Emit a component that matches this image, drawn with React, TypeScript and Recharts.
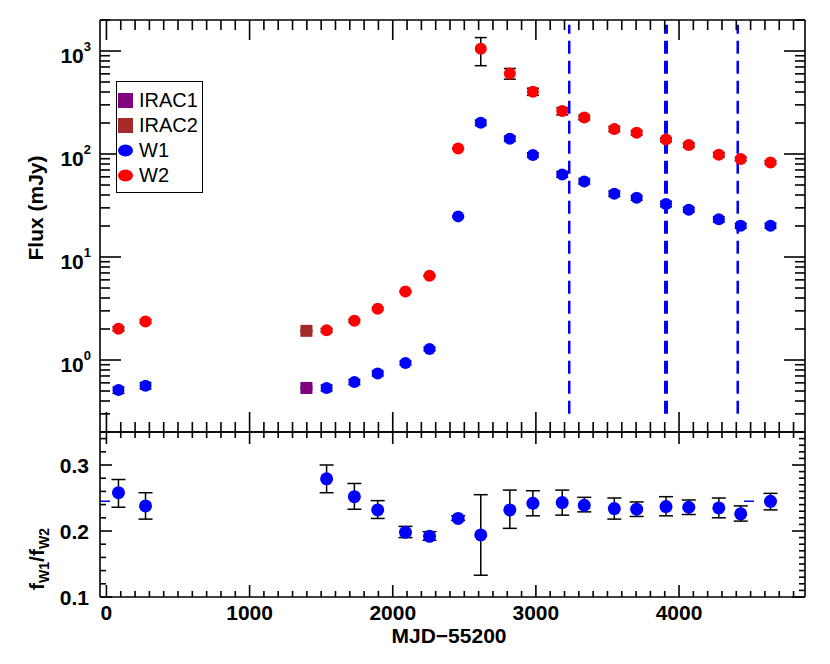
import React from "react";
import { ScatterChart, Scatter, XAxis, YAxis, ErrorBar, ReferenceLine } from "recharts";

// WISE epochs (MJD-55200), shared by W1, W2 and the ratio
const wiseMjd = [84, 273, 1538, 1732, 1895, 2089, 2257, 2457, 2615, 2818, 2979, 3184, 3338, 3548, 3704, 3909, 4068, 4278, 4431, 4639];
const w1Flux = [0.511, 0.563, 0.535, 0.611, 0.741, 0.935, 1.28, 24.8, 201, 141, 97.8, 63.4, 54.2, 41.2, 37.6, 32.7, 28.8, 23.2, 20.1, 20.1];
const w1Err = [0.035, 0.04, 0.035, 0.035, 0.04, 0.04, 0.05, 0.3, 12, 8, 5, 4, 3, 2.5, 2, 2, 1.5, 1.3, 1.1, 1.1];
const w2Flux = [2.01, 2.37, 1.94, 2.4, 3.15, 4.63, 6.58, 113, 1050, 605, 403, 261, 226, 175, 161, 138, 122, 98.5, 89.4, 82.8];
const w2ErrLow = [0.09, 0.09, 0.08, 0.08, 0.09, 0.09, 0.1, 1, 330, 72, 32, 21, 11, 10, 8, 6, 6, 5, 3.6, 3.3];
const w2ErrHigh = [0.09, 0.09, 0.08, 0.08, 0.09, 0.09, 0.1, 1, 300, 72, 32, 21, 11, 10, 8, 6, 6, 5, 3.6, 3.3];

// Spitzer epoch
const iracMjd = [1397];
const irac1Flux = [0.535];
const irac1Err = [0.015];
const irac2Flux = [1.92];
const irac2Err = [0.03];

// f_W1 / f_W2
const ratio = [0.258, 0.238, 0.279, 0.252, 0.232, 0.198, 0.192, 0.219, 0.194, 0.232, 0.242, 0.243, 0.239, 0.234, 0.233, 0.237, 0.236, 0.235, 0.226, 0.245];
const ratioErrLow = [0.022, 0.02, 0.021, 0.019, 0.013, 0.008, 0.006, 0.003, 0.061, 0.028, 0.019, 0.019, 0.01, 0.016, 0.011, 0.014, 0.011, 0.015, 0.011, 0.013];
const ratioErrHigh = [0.02, 0.02, 0.021, 0.02, 0.014, 0.009, 0.007, 0.004, 0.061, 0.03, 0.019, 0.019, 0.012, 0.016, 0.011, 0.015, 0.011, 0.015, 0.012, 0.012];
const ratioRef = 0.245;

// vertical dashed epochs
const epochLines = [3233, 3909, 4410];
const epochSpan = [0.3, 1800];

const xDomain = [-45, 4880];
const fluxDomain = [0.2, 2000];
const ratioDomain = [0.1, 0.35];
const xTicks = Array.from({ length: 49 }, (_, i) => i * 100);
const fluxTicks = [0.2, 0.3, 0.4, 0.5, 0.6, 0.7, 0.8, 0.9, 1, 2, 3, 4, 5, 6, 7, 8, 9, 10, 20, 30, 40, 50, 60, 70, 80, 90, 100, 200, 300, 400, 500, 600, 700, 800, 900, 1000, 2000];
const ratioTicksLeft = [0.1, 0.12, 0.14, 0.16, 0.18, 0.2, 0.22, 0.24, 0.26, 0.28, 0.3, 0.32, 0.34];
const ratioTicksRight = Array.from({ length: 25 }, (_, i) => 0.1 + i * 0.01);

const legendItems = [
  { name: "IRAC1", color: "#800080", shape: "square" },
  { name: "IRAC2", color: "#a52a2a", shape: "square" },
  { name: "W1", color: "#0000ff", shape: "circle" },
  { name: "W2", color: "#ff0000", shape: "circle" },
];

const FONT = "Liberation Sans, Arial, Helvetica, sans-serif";

const w1Data = wiseMjd.map((x, i) => ({ x, y: w1Flux[i], err: [w1Err[i], w1Err[i]] }));
const w2Data = wiseMjd.map((x, i) => ({ x, y: w2Flux[i], err: [w2ErrLow[i], w2ErrHigh[i]] }));
const irac1Data = iracMjd.map((x, i) => ({ x, y: irac1Flux[i], err: [irac1Err[i], irac1Err[i]] }));
const irac2Data = iracMjd.map((x, i) => ({ x, y: irac2Flux[i], err: [irac2Err[i], irac2Err[i]] }));
const ratioData = wiseMjd.map((x, i) => ({ x, y: ratio[i], err: [ratioErrLow[i], ratioErrHigh[i]] }));

const isDecade = (v: number) => Math.abs(Math.log10(v) - Math.round(Math.log10(v))) < 1e-9;
const isTenth = (v: number) => Math.abs(v * 10 - Math.round(v * 10)) < 1e-9;
const isThousand = (v: number) => v % 1000 === 0;

type LabelKind = "log" | "ratio" | "mjd" | "none";

// inward tick marks (long for majors, short for minors), bold label outside for majors
function makeTick(side: string, major: (v: number) => boolean, long: number, short: number, kind: LabelKind) {
  return (props: any) => {
    const x = Number(props.x);
    const y = Number(props.y);
    const v = Number(props.payload.value);
    const big = major(v);
    const len = big ? long : short;
    const dx = side === "left" ? len : side === "right" ? -len : 0;
    const dy = side === "top" ? len : side === "bottom" ? -len : 0;
    let text = null;
    if (big && kind === "log") {
      text = (
        <text x={x - 9} y={y + 12} textAnchor="end" fontFamily={FONT} fontWeight="bold" fontSize={21} fill="#000">
          <tspan>10</tspan>
          <tspan dy={-12} fontSize={13}>{String(Math.round(Math.log10(v)))}</tspan>
        </text>
      );
    } else if (big && kind === "ratio") {
      text = (
        <text x={x - 11} y={y + 8} textAnchor="end" fontFamily={FONT} fontWeight="bold" fontSize={21} fill="#000">
          {v.toFixed(1)}
        </text>
      );
    } else if (big && kind === "mjd") {
      text = (
        <text x={x} y={y + 23} textAnchor="middle" fontFamily={FONT} fontWeight="bold" fontSize={21} fill="#000">
          {String(v)}
        </text>
      );
    }
    return (
      <g>
        <path d={`M${x},${y}L${x + dx},${y + dy}`} stroke="#000" strokeWidth={1.6} fill="none" />
        {text}
      </g>
    );
  };
}

const fluxBottomTick = makeTick("bottom", isThousand, 20, 10, "none");
const fluxTopTick = makeTick("top", isThousand, 20, 10, "none");
const fluxLeftTick = makeTick("left", isDecade, 21, 10, "log");
const fluxRightTick = makeTick("right", isDecade, 21, 10, "none");
const ratioBottomTick = makeTick("bottom", isThousand, 12, 6, "mjd");
const ratioTopTick = makeTick("top", isThousand, 12, 6, "none");
const ratioLeftTick = makeTick("left", isTenth, 12, 6, "ratio");
const ratioRightTick = makeTick("right", isTenth, 13, 6, "none");

const frame = { stroke: "#000", strokeWidth: 1.6 };
const nothing = () => <g />;

const circle = (color: string, r: number) => (props: any) =>
  <circle cx={props.cx} cy={props.cy} r={r} fill={color} />;
const square = (color: string, s: number) => (props: any) =>
  <rect x={props.cx - s / 2} y={props.cy - s / 2} width={s} height={s} fill={color} />;

const w2Shape = circle("#ff0000", 6);
const w1Shape = circle("#0000ff", 6);
const irac2Shape = square("#a52a2a", 12);
const irac1Shape = square("#800080", 12);
const ratioShape = circle("#0000ff", 6.5);

const titleStyle: React.CSSProperties = {
  position: "absolute",
  fontFamily: FONT,
  fontWeight: "bold",
  fontSize: 21,
  lineHeight: "21px",
  whiteSpace: "nowrap",
  color: "#000",
};
const subStyle: React.CSSProperties = { fontSize: 14, position: "relative", top: 5 };

function LegendBox() {
  return (
    <div
      style={{
        position: "absolute",
        left: 116,
        top: 81,
        border: "1.5px solid #000",
        background: "#fff",
        width: 87,
        height: 112,
        boxSizing: "border-box",
        paddingTop: 6,
        fontFamily: FONT,
        fontSize: 20,
      }}
    >
      {legendItems.map((it) => (
        <div key={it.name} style={{ display: "flex", alignItems: "center", height: 25 }}>
          <svg width={22} height={25} style={{ flex: "none" }}>
            {it.shape === "square" ? (
              <rect x={1} y={5} width={15} height={15} fill={it.color} />
            ) : (
              <ellipse cx={8.5} cy={12.5} rx={7.5} ry={6} fill={it.color} />
            )}
          </svg>
          <span style={{ lineHeight: "25px", color: "#000" }}>{it.name}</span>
        </div>
      ))}
    </div>
  );
}

export default function App() {
  return (
    <div style={{ position: "absolute", left: 0, top: 0, width: 830, height: 664, background: "#fff" }}>
      <div style={{ position: "absolute", left: 0, top: 0 }}>
        <ScatterChart width={830} height={433} margin={{ top: 19, right: 24, bottom: 0, left: 0 }}>
          <XAxis type="number" dataKey="x" domain={xDomain} allowDataOverflow ticks={xTicks} interval={0}
            height={1} tickSize={0} tickMargin={0} tickLine={false} axisLine={frame} tick={fluxBottomTick} />
          <XAxis xAxisId="top" orientation="top" type="number" dataKey="x" domain={xDomain} allowDataOverflow
            ticks={xTicks} interval={0} height={1} tickSize={0} tickMargin={0} tickLine={false} axisLine={frame}
            tick={fluxTopTick} />
          <YAxis type="number" dataKey="y" scale="log" domain={fluxDomain} allowDataOverflow ticks={fluxTicks}
            interval={0} width={100} tickSize={0} tickMargin={0} tickLine={false} axisLine={frame}
            tick={fluxLeftTick} />
          <YAxis yAxisId="right" orientation="right" type="number" dataKey="y" scale="log" domain={fluxDomain}
            allowDataOverflow ticks={fluxTicks} interval={0} width={1} tickSize={0} tickMargin={0}
            tickLine={false} axisLine={frame} tick={fluxRightTick} />
          {epochLines.map((x, i) => (
            <ReferenceLine
              key={x}
              segment={[
                { x, y: epochSpan[0] },
                { x, y: epochSpan[1] },
              ]}
              stroke="#0000ff"
              strokeDasharray="13 7"
              style={{ strokeWidth: i === 1 ? 4 : 2.5 }}
            />
          ))}
          <Scatter data={w2Data} shape={w2Shape} isAnimationActive={false} />
          <Scatter data={w1Data} shape={w1Shape} isAnimationActive={false} />
          <Scatter data={irac2Data} shape={irac2Shape} isAnimationActive={false} />
          <Scatter data={irac1Data} shape={irac1Shape} isAnimationActive={false} />
          {[w2Data, w1Data, irac2Data, irac1Data].map((d, i) => (
            <Scatter key={i} data={d} shape={nothing} isAnimationActive={false}>
              <ErrorBar dataKey="err" direction="y" width={6} stroke="#000" isAnimationActive={false} />
            </Scatter>
          ))}
          {/* binds the mirrored top/right axes so they are drawn */}
          <Scatter xAxisId="top" yAxisId="right" data={w1Data} shape={nothing} isAnimationActive={false} />
        </ScatterChart>
      </div>
      <div style={{ position: "absolute", left: 0, top: 431 }}>
        <ScatterChart width={830} height={233} margin={{ top: 0, right: 24, bottom: 0, left: 0 }}>
          <XAxis type="number" dataKey="x" domain={xDomain} allowDataOverflow ticks={xTicks} interval={0}
            height={67} tickSize={0} tickMargin={0} tickLine={false} axisLine={frame} tick={ratioBottomTick} />
          <XAxis xAxisId="top" orientation="top" type="number" dataKey="x" domain={xDomain} allowDataOverflow
            ticks={xTicks} interval={0} height={1} tickSize={0} tickMargin={0} tickLine={false} axisLine={frame}
            tick={ratioTopTick} />
          <YAxis type="number" dataKey="y" domain={ratioDomain} allowDataOverflow ticks={ratioTicksLeft}
            interval={0} width={100} tickSize={0} tickMargin={0} tickLine={false} axisLine={frame}
            tick={ratioLeftTick} />
          <YAxis yAxisId="right" orientation="right" type="number" dataKey="y" domain={ratioDomain}
            allowDataOverflow ticks={ratioTicksRight} interval={0} width={1} tickSize={0} tickMargin={0}
            tickLine={false} axisLine={frame} tick={ratioRightTick} />
          <ReferenceLine y={ratioRef} stroke="#0000ff" strokeDasharray="10 634" style={{ strokeWidth: 1.5 }} />
          <Scatter data={ratioData} shape={ratioShape} isAnimationActive={false}>
            <ErrorBar dataKey="err" direction="y" width={7} stroke="#000" isAnimationActive={false} />
          </Scatter>
          <Scatter xAxisId="top" yAxisId="right" data={ratioData} shape={nothing} isAnimationActive={false} />
        </ScatterChart>
      </div>
      <LegendBox />
      <div style={{ ...titleStyle, left: 35, top: 208, transform: "translate(-50%, -50%) rotate(-90deg)" }}>
        Flux (mJy)
      </div>
      <div style={{ ...titleStyle, left: 38, top: 559, transform: "translate(-50%, -50%) rotate(-90deg)" }}>
        f<span style={subStyle}>W1</span>/f<span style={subStyle}>W2</span>
      </div>
      <div style={{ ...titleStyle, left: 449, top: 635, transform: "translate(-50%, -50%)" }}>
        MJD−55200
      </div>
    </div>
  );
}
